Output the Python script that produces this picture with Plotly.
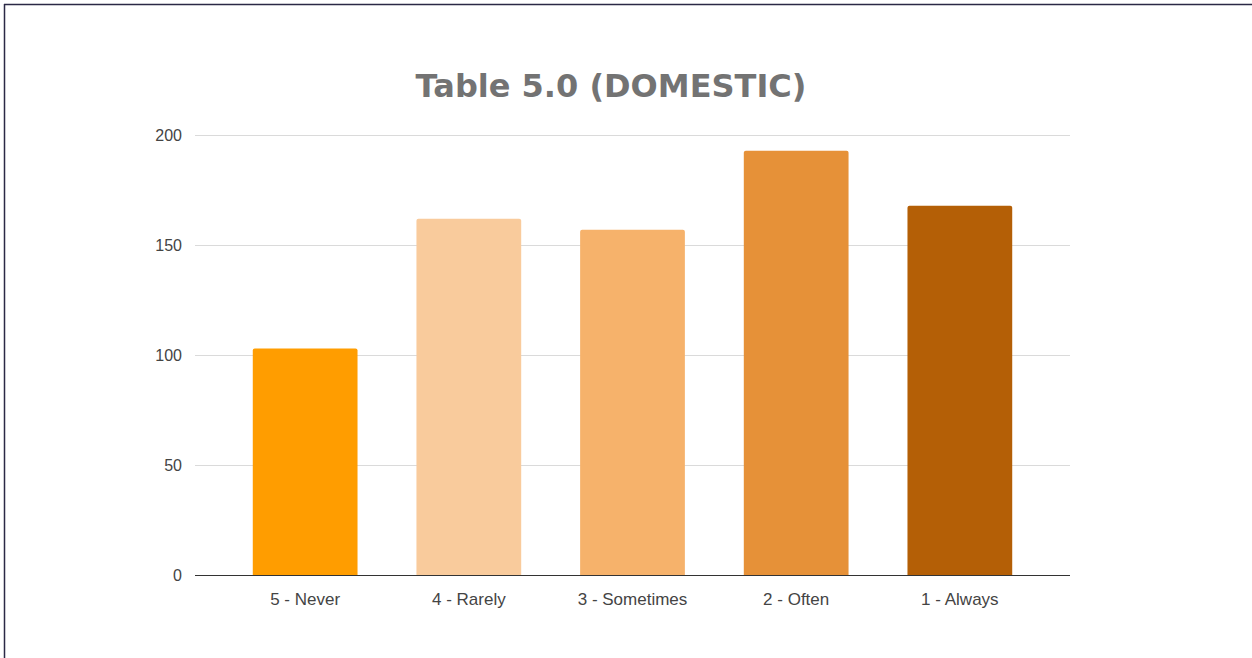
import plotly.graph_objects as go

categories = ["5 - Never", "4 - Rarely", "3 - Sometimes", "2 - Often", "1 - Always"]
counts = [103, 162, 157, 193, 168]
bar_colors = ["#FF9D00", "#F9CB9C", "#F6B26B", "#E69138", "#B45F06"]
y_ticks = [0, 50, 100, 150, 200]

W, H = 1252, 658
ML, MR, MT, MB = 195, 182, 134, 83
pw, ph = W - ML - MR, H - MT - MB


def px_x(x):
    return (x - ML) / pw


def px_y(y):
    return (H - MB - y) / ph


fig = go.Figure(
    go.Bar(
        x=categories,
        y=counts,
        marker=dict(color=bar_colors, line=dict(width=0), cornerradius=2),
        width=0.64,
        hoverinfo="x+y",
    )
)

fig.update_layout(
    width=W,
    height=H,
    margin=dict(l=ML, r=MR, t=MT, b=MB),
    paper_bgcolor="white",
    plot_bgcolor="white",
    showlegend=False,
    title=dict(
        text="<b>Table 5.0 (DOMESTIC)</b>",
        x=px_x(611),
        xref="paper",
        xanchor="center",
        y=1 - 86 / H,
        yanchor="middle",
        font=dict(family="DejaVu Sans", size=32, color="#737373"),
    ),
    font=dict(family="Liberation Sans, Arial", size=17, color="#444444"),
    xaxis=dict(
        range=[-0.673, 4.673],
        showgrid=False,
        showline=False,
        ticks="",
        ticklabelstandoff=12,
        tickfont=dict(size=17, color="#444444"),
    ),
    yaxis=dict(
        range=[0, 200.6],
        tickvals=y_ticks,
        showgrid=True,
        gridcolor="#DADADA",
        gridwidth=1,
        zeroline=True,
        zerolinecolor="#333333",
        zerolinewidth=1,
        ticks="",
        ticklabelstandoff=12,
        tickfont=dict(size=16, color="#444444"),
    ),
    shapes=[
        dict(type="line", xref="paper", yref="paper",
             x0=px_x(4), x1=px_x(W), y0=px_y(4.5), y1=px_y(4.5),
             line=dict(color="#2B2946", width=1.5)),
        dict(type="line", xref="paper", yref="paper",
             x0=px_x(4.5), x1=px_x(4.5), y0=px_y(4), y1=px_y(H),
             line=dict(color="#2B2946", width=1.5)),
    ],
)

fig.write_html("out.html")
